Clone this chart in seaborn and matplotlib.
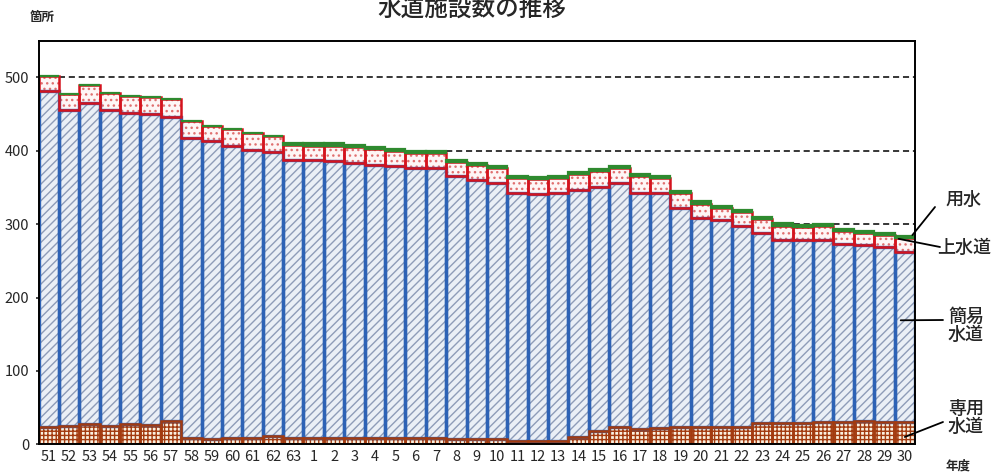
import numpy as np
import pandas as pd
import matplotlib
matplotlib.use("Agg")
import matplotlib.pyplot as plt
import seaborn as sns

# 年度 (昭和51〜63, 平成1〜30)
years = [str(y) for y in range(51, 64)] + [str(y) for y in range(1, 31)]

# 専用水道
senyo = [24, 25, 27, 25, 27, 26, 32, 9, 7, 9, 8, 11, 8,
         8, 8, 8, 8, 8, 8, 8, 7, 7, 7, 5, 5, 5, 10, 18, 23, 21,
         22, 24, 24, 24, 23, 29, 29, 29, 30, 30, 32, 30, 30]
# 簡易水道
kani = [458, 430, 438, 430, 424, 424, 414, 408, 406, 397, 393, 387, 380,
        379, 378, 376, 373, 371, 368, 368, 358, 353, 349, 337, 336, 337, 337, 333, 333, 322,
        321, 298, 285, 282, 275, 259, 250, 249, 249, 243, 240, 239, 232]
# 上水道
josui = [20, 23, 24, 24, 23, 23, 24, 23, 21, 23, 23, 22, 20,
         20, 21, 21, 21, 21, 21, 21, 20, 20, 20, 21, 20, 21, 21, 21, 20, 22,
         20, 20, 19, 16, 18, 19, 19, 18, 18, 18, 16, 16, 19]
# 用水供給
yosui = [0] * 12 + [3] * 31

df = pd.DataFrame({"year": years, "senyo": senyo, "kani": kani,
                   "josui": josui, "yosui": yosui})
b_kani = df["senyo"].values
b_josui = b_kani + df["kani"].values
b_yosui = b_josui + df["josui"].values

sns.set_theme(style="white")
plt.rcParams["font.family"] = ["Noto Sans CJK JP", "DejaVu Sans"]
plt.rcParams["hatch.linewidth"] = 1.0

fig = plt.figure(figsize=(9.93, 4.75), dpi=100)
ax = fig.add_axes([38.5 / 993, 1 - 444.3 / 475, (915 - 38.5) / 993, (444.3 - 40.7) / 475])

# fills (hatch colour = edgecolor, so edges off here)
sns.barplot(data=df, x="year", y="senyo", width=1.0, color="#fff2dc", edgecolor="#a33b10",
            hatch="++++", linewidth=0, ax=ax)
sns.barplot(data=df, x="year", y="kani", width=1.0, color="#e8eef8", edgecolor="#8e9cb8",
            hatch="////", linewidth=0, bottom=b_kani, ax=ax)
sns.barplot(data=df, x="year", y="josui", width=1.0, color="#fff5f5", edgecolor="#e07070",
            hatch="...", linewidth=0, bottom=b_josui, ax=ax)
sns.barplot(data=df, x="year", y="yosui", width=1.0, color="#2f8a2f", linewidth=0,
            bottom=b_yosui, ax=ax)

# outlines
sns.barplot(data=df, x="year", y="kani", width=1.0, fill=False, color="#2d62b5",
            linewidth=2.4, bottom=b_kani, ax=ax)
sns.barplot(data=df, x="year", y="senyo", width=1.0, fill=False, color="#a33b10",
            linewidth=1.8, ax=ax)
sns.barplot(data=df, x="year", y="josui", width=1.0, fill=False, color="#d4141e",
            linewidth=1.8, bottom=b_josui, ax=ax)
sns.barplot(data=df, x="year", y="yosui", width=1.0, fill=False, color="#2f8a2f",
            linewidth=1.6, bottom=b_yosui, ax=ax)

ax.set_xlim(-0.5, len(years) - 0.5)
ax.set_ylim(0, 550)
ax.set_yticks([0, 100, 200, 300, 400, 500])
ax.yaxis.grid(True, color="black", linestyle=(0, (4, 2.5)), linewidth=1.1)
ax.set_axisbelow(True)
ax.set_xlabel("")
ax.set_ylabel("")
ax.tick_params(axis="x", length=0, labelsize=10.5, pad=4)
ax.tick_params(axis="y", length=5, width=1.2, direction="inout", labelsize=10.5, left=True, pad=4)
for s in ax.spines.values():
    s.set_color("black")
    s.set_linewidth(1.4)

fig.text(472 / 993, 1 - 10 / 475, "水道施設数の推移", ha="center", va="center", fontsize=17,
         fontweight="medium")
fig.text(42 / 993, 1 - 17 / 475, "箇所", ha="center", va="center", fontsize=9, fontweight="bold")
fig.text(958 / 993, 1 - 466 / 475, "年度", ha="center", va="center", fontsize=9, fontweight="bold")

# right-side labels with leader lines
labels = [("用水", 963, 200, (42.37, 285), (935, 207)),
          ("上水道", 964, 248, (41.7, 280), (940, 247)),
          ("簡易\n水道", 966, 326, (41.8, 169), (943, 320)),
          ("専用\n水道", 966, 418, (42.0, 10), (943, 422))]
for txt, tx, ty, xy, (lx, ly) in labels:
    fig.text(tx / 993, 1 - ty / 475, txt, ha="center", va="center", fontsize=13,
             fontweight="medium", linespacing=1.05)
    ax.annotate("", xy=xy, xycoords="data", xytext=(lx, 475 - ly), textcoords="figure pixels",
                arrowprops=dict(arrowstyle="-", color="black", lw=1.3, shrinkA=0, shrinkB=0),
                annotation_clip=False)

fig.savefig("out.png", dpi=100)
